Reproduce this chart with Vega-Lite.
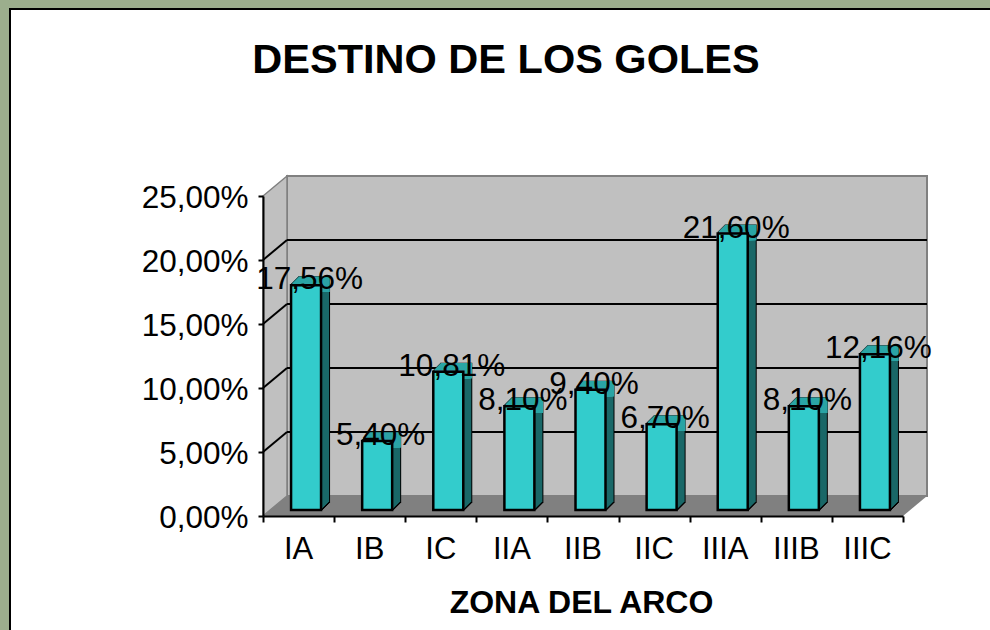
{"$schema":"https://vega.github.io/schema/vega-lite/v6.json","width":982,"height":623,"autosize":"none","padding":{"left":10,"top":9,"right":0,"bottom":0},"background":"#9cae8d","view":{"fill":"white","stroke":"black","strokeWidth":2},"title":{"text":"DESTINO DE LOS GOLES","font":"Liberation Sans","fontWeight":"bold","fontSize":41.5,"color":"black","orient":"top","anchor":"middle","frame":"group","dx":5,"offset":-105,"baseline":"alphabetic"},
"datasets":{"bars":[{"zona":"IA","v":0.1756,"label":"17,56%"},{"zona":"IB","v":0.054,"label":"5,40%"},{"zona":"IC","v":0.1081,"label":"10,81%"},{"zona":"IIA","v":0.081,"label":"8,10%"},{"zona":"IIB","v":0.094,"label":"9,40%"},{"zona":"IIC","v":0.067,"label":"6,70%"},{"zona":"IIIA","v":0.216,"label":"21,60%"},{"zona":"IIIB","v":0.081,"label":"8,10%"},{"zona":"IIIC","v":0.1216,"label":"12,16%"}]},
"resolve":{"scale":{"x":"independent"},"axis":{"x":"independent"}},
"layer":[
{"encoding":{"x":{"field":"x","type":"quantitative","scale":{"domain":[0,9],"range":[253,893],"nice":false,"zero":false},"axis":{"orient":"bottom","values":[0,1,2,3,4,5,6,7,8,9],"labels":false,"title":null,"grid":false,"domainColor":"black","domainWidth":2,"tickColor":"black","tickWidth":2,"tickSize":6,"offset":-116,"zindex":1}},
"y":{"field":"lo","type":"quantitative","scale":{"domain":[0,0.25],"range":[507,187],"nice":false},"axis":{"orient":"left","values":[0,0.05,0.1,0.15,0.2,0.25],"labelExpr":"replace(format(datum.value,'.2%'),'.',',')","title":null,"grid":false,"domainColor":"black","domainWidth":2,"tickColor":"black","tickWidth":2,"tickSize":5,"labelFont":"Liberation Sans","labelFontSize":31.5,"labelColor":"black","labelPadding":10,"labelOffset":2,"offset":-253,"zindex":1}}},
"layer":[
{"data":{"values":[{"x":0,"x2":9,"lo":0,"hi":0.25}]},"mark":{"type":"rect","fill":"#c0c0c0","stroke":"#808080","strokeWidth":2,"xOffset":24,"yOffset":-20,"x2Offset":24,"y2Offset":-20},"encoding":{"x2":{"field":"x2"},"y2":{"field":"hi"}}},
{"data":{"values":[{"x":0,"lo":0,"hi":0.25},{"x":0.3375,"lo":0.015625,"hi":0.265625}]},"mark":{"type":"area","fill":"#c0c0c0","stroke":"#808080","strokeWidth":1.5},"encoding":{"y2":{"field":"hi"}}},
{"data":{"values":[{"x":0,"lo":0,"hi":0},{"x":0.3375,"lo":0,"hi":0.015625},{"x":9,"lo":0,"hi":0.015625},{"x":9.3375,"lo":0.015625,"hi":0.015625}]},"mark":{"type":"area","fill":"#808080"},"encoding":{"y2":{"field":"hi"}}},
{"data":{"values":[{"x":0,"x2":9,"lo":0.05},{"x":0,"x2":9,"lo":0.1},{"x":0,"x2":9,"lo":0.15},{"x":0,"x2":9,"lo":0.2}]},"mark":{"type":"rule","color":"black","strokeWidth":2,"xOffset":24,"yOffset":-20,"x2Offset":24},"encoding":{"x2":{"field":"x2"}}},
{"data":{"values":[{"x":0,"x2":0.3375,"lo":0.05,"hi":0.065625},{"x":0,"x2":0.3375,"lo":0.1,"hi":0.115625},{"x":0,"x2":0.3375,"lo":0.15,"hi":0.165625},{"x":0,"x2":0.3375,"lo":0.2,"hi":0.215625}]},"mark":{"type":"rule","color":"black","strokeWidth":2},"encoding":{"x2":{"field":"x2"},"y2":{"field":"hi"}}}
]},
{"data":{"name":"bars"},"encoding":{"x":{"field":"zona","type":"nominal","sort":null,"scale":{"domain":["IA","IB","IC","IIA","IIB","IIC","IIIA","IIIB","IIIC"],"range":[253,893],"paddingInner":0,"paddingOuter":0},"axis":{"orient":"bottom","title":"ZONA DEL ARCO","titleFont":"Liberation Sans","titleFontWeight":"bold","titleFontSize":32,"titleColor":"black","titleX":571,"titleY":96,"titleBaseline":"alphabetic","labelFont":"Liberation Sans","labelFontSize":31,"labelColor":"black","labelAngle":0,"labelPadding":18,"ticks":false,"domain":false,"offset":-116,"zindex":1}},
"y":{"field":"v","type":"quantitative","scale":{"domain":[0,0.25],"range":[507,187],"nice":false},"axis":{"orient":"left","values":[0,0.05,0.1,0.15,0.2,0.25],"labelExpr":"replace(format(datum.value,'.2%'),'.',',')","title":null,"grid":false,"domainColor":"black","domainWidth":2,"tickColor":"black","tickWidth":2,"tickSize":5,"labelFont":"Liberation Sans","labelFontSize":31.5,"labelColor":"black","labelPadding":10,"labelOffset":2,"offset":-253,"zindex":1}}},
"layer":[
{"mark":{"type":"bar","width":30,"fill":"black","stroke":"black","strokeWidth":2,"xOffset":15.5,"yOffset":-14}},
{"mark":{"type":"bar","width":30,"fill":"black","stroke":"black","strokeWidth":2,"xOffset":14.5,"yOffset":-13}},
{"mark":{"type":"bar","width":30,"fill":"black","stroke":"black","strokeWidth":2,"xOffset":13.5,"yOffset":-12}},
{"mark":{"type":"bar","width":30,"fill":"black","stroke":"black","strokeWidth":2,"xOffset":12.5,"yOffset":-11}},
{"mark":{"type":"bar","width":30,"fill":"black","stroke":"black","strokeWidth":2,"xOffset":11.5,"yOffset":-10}},
{"mark":{"type":"bar","width":30,"fill":"black","stroke":"black","strokeWidth":2,"xOffset":10.5,"yOffset":-9}},
{"mark":{"type":"bar","width":30,"fill":"black","stroke":"black","strokeWidth":2,"xOffset":9.5,"yOffset":-8}},
{"mark":{"type":"bar","width":30,"fill":"black","stroke":"black","strokeWidth":2,"xOffset":8.5,"yOffset":-7}},
{"mark":{"type":"bar","width":30,"fill":"#1a6868","xOffset":15.5,"yOffset":-14}},
{"mark":{"type":"bar","width":30,"fill":"#1a6868","xOffset":14.5,"yOffset":-13}},
{"mark":{"type":"bar","width":30,"fill":"#1a6868","xOffset":13.5,"yOffset":-12}},
{"mark":{"type":"bar","width":30,"fill":"#1a6868","xOffset":12.5,"yOffset":-11}},
{"mark":{"type":"bar","width":30,"fill":"#1a6868","xOffset":11.5,"yOffset":-10}},
{"mark":{"type":"bar","width":30,"fill":"#1a6868","xOffset":10.5,"yOffset":-9}},
{"mark":{"type":"bar","width":30,"fill":"#1a6868","xOffset":9.5,"yOffset":-8}},
{"mark":{"type":"bar","width":30,"fill":"#1a6868","xOffset":8.5,"yOffset":-7}},
{"mark":{"type":"bar","width":30,"stroke":"#2aa5a5","strokeWidth":1.5,"xOffset":15.5,"yOffset":-14},"encoding":{"y2":{"field":"v"}}},
{"mark":{"type":"bar","width":30,"stroke":"#2aa5a5","strokeWidth":1.5,"xOffset":14.5,"yOffset":-13},"encoding":{"y2":{"field":"v"}}},
{"mark":{"type":"bar","width":30,"stroke":"#2aa5a5","strokeWidth":1.5,"xOffset":13.5,"yOffset":-12},"encoding":{"y2":{"field":"v"}}},
{"mark":{"type":"bar","width":30,"stroke":"#2aa5a5","strokeWidth":1.5,"xOffset":12.5,"yOffset":-11},"encoding":{"y2":{"field":"v"}}},
{"mark":{"type":"bar","width":30,"stroke":"#2aa5a5","strokeWidth":1.5,"xOffset":11.5,"yOffset":-10},"encoding":{"y2":{"field":"v"}}},
{"mark":{"type":"bar","width":30,"stroke":"#2aa5a5","strokeWidth":1.5,"xOffset":10.5,"yOffset":-9},"encoding":{"y2":{"field":"v"}}},
{"mark":{"type":"bar","width":30,"stroke":"#2aa5a5","strokeWidth":1.5,"xOffset":9.5,"yOffset":-8},"encoding":{"y2":{"field":"v"}}},
{"mark":{"type":"bar","width":30,"fill":"#33cccc","stroke":"black","strokeWidth":2.5,"xOffset":7.5,"yOffset":-6}},
{"mark":{"type":"text","font":"Liberation Sans","fontSize":31.5,"color":"black","baseline":"alphabetic","align":"center","xOffset":11,"dy":-2},"encoding":{"text":{"field":"label"}}}
]}
]}
